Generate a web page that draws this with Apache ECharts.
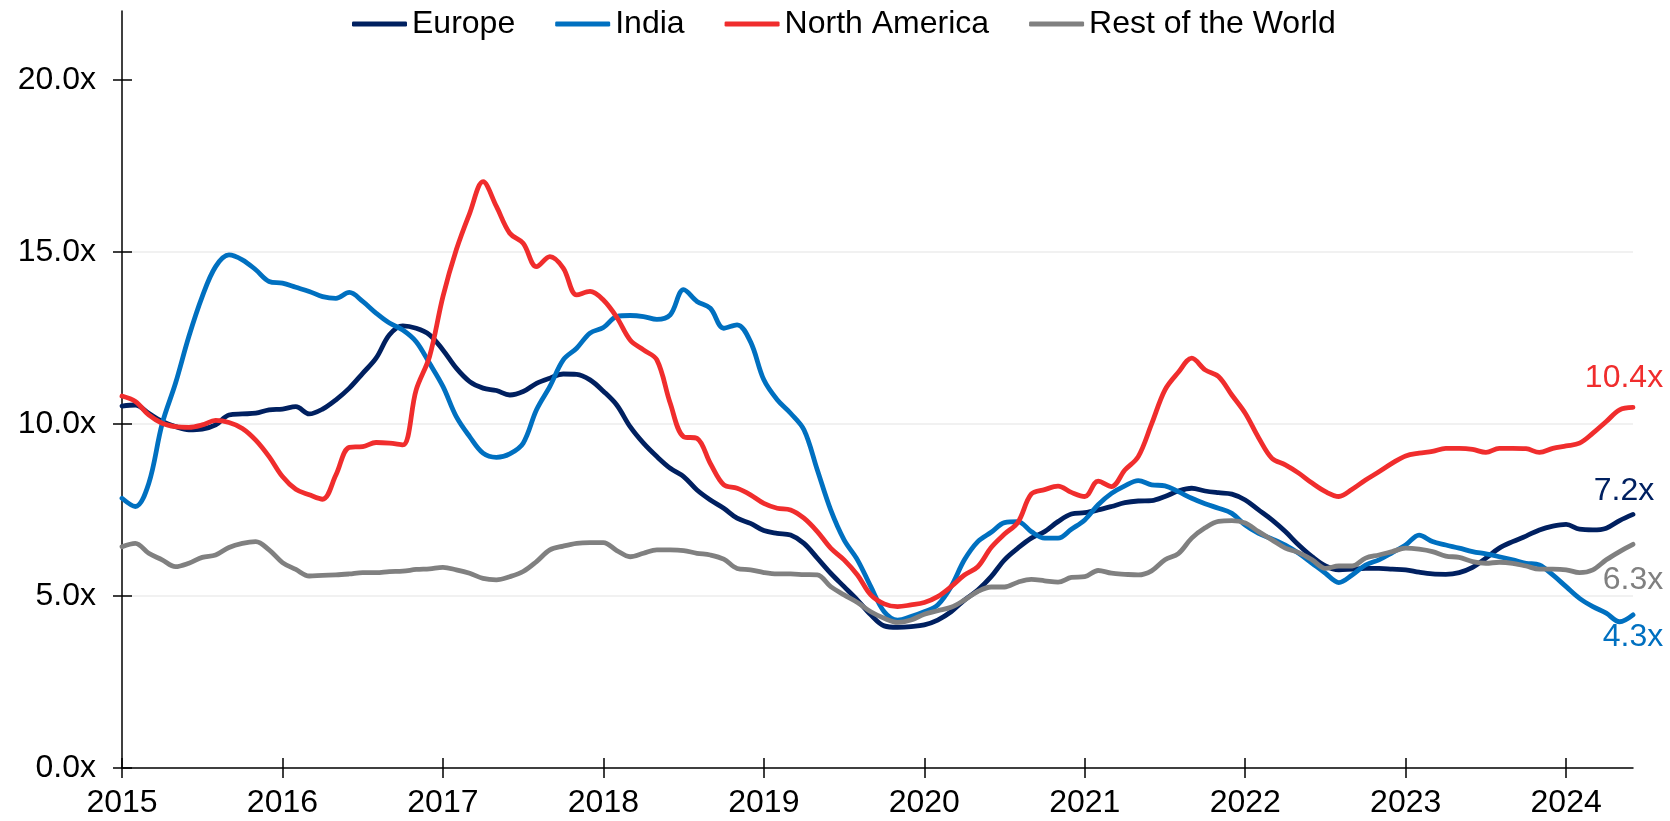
<!DOCTYPE html>
<html>
<head>
<meta charset="utf-8">
<script src="https://cdn.jsdelivr.net/npm/echarts@6/dist/echarts.min.js"></script>
<style>
html, body { margin: 0; padding: 0; background: #fff; }
#chartMain { width: 1670px; height: 821px; }
</style>
</head>
<body>
<div id="chartMain"></div>
<script>
// monthly points, Jan 2015 .. Jun 2024
var startYear = 2015;
var yearTicks = [2015, 2016, 2017, 2018, 2019, 2020, 2021, 2022, 2023, 2024];
var valueTicks = [0, 5, 10, 15, 20];

var seriesNames = ['Europe', 'India', 'North America', 'Rest of the World'];
var endLabels = ['7.2x', '4.3x', '10.4x', '6.3x'];

var europe = [10.52,10.55,10.31,10.07,9.92,9.83,9.85,9.97,10.26,10.29,10.31,10.41,10.43,10.5,10.29,10.43,10.7,11.04,11.47,11.91,12.59,12.85,12.78,12.59,12.15,11.62,11.23,11.04,10.97,10.84,10.94,11.18,11.33,11.45,11.44,11.28,10.95,10.55,
    9.92,9.44,9.05,8.71,8.47,8.08,7.79,7.55,7.26,7.11,6.9,6.82,6.77,6.53,6.1,5.66,5.27,4.88,4.45,4.13,4.09,4.11,4.16,4.3,4.54,4.88,5.17,
    5.56,6.05,6.39,6.68,6.87,7.16,7.38,7.42,7.5,7.6,7.71,7.76,
    7.77,7.89,8.05,8.13,8.05,8.0,7.96,7.79,7.5,7.21,6.87,6.48,6.14,5.87,5.76,5.78,5.8,5.8,5.78,5.76,5.69,5.64,5.63,5.68,5.83,6.1,6.39,6.58,6.74,6.92,7.03,7.08,6.94,6.92,6.97,7.19,7.37];

var india = [7.84,7.6,8.27,10.0,11.18,12.54,13.7,14.57,14.91,14.77,14.48,14.14,14.09,13.97,13.85,13.7,13.65,13.82,13.56,13.22,12.93,12.73,12.39,11.76,11.09,10.21,9.63,9.15,9.03,9.13,9.44,10.41,11.09,11.86,12.2,12.64,12.8,13.12,
    13.15,13.12,13.04,13.17,13.9,13.56,13.36,12.78,12.88,12.39,11.28,10.7,10.31,9.83,8.66,7.5,6.63,6.05,5.27,4.54,4.3,4.4,4.54,4.74,5.27,6.05,6.58,
    6.85,7.13,7.16,6.87,6.68,6.68,6.94,7.21,7.65,7.98,8.2,8.35,
    8.23,8.2,8.03,7.84,7.68,7.55,7.4,7.06,6.82,6.66,6.48,6.24,5.95,5.66,5.39,5.61,5.9,6.05,6.26,6.48,6.77,6.58,6.48,6.39,6.29,6.22,6.14,6.05,5.95,5.9,5.61,5.27,4.93,4.69,4.5,4.25,4.45];

var northAmerica = [10.81,10.65,10.26,10.02,9.92,9.9,9.97,10.1,10.04,9.87,9.53,9.05,8.47,8.1,7.94,7.81,8.52,9.32,9.34,9.46,9.44,9.39,10.99,11.96,13.7,15.06,16.12,17.04,16.32,15.54,15.25,14.57,14.86,14.53,13.75,13.85,13.6,13.1,
    12.44,12.15,11.86,10.6,9.63,9.58,8.85,8.23,8.13,7.94,7.69,7.55,7.5,7.26,6.87,6.39,6.05,5.61,5.03,4.77,4.69,4.74,4.81,4.98,5.27,5.61,5.85,
    6.41,6.8,7.14,7.96,8.09,8.19,8.01,7.89,8.34,8.18,8.66,9.05,
    10.0,10.99,11.5,11.91,11.57,11.38,10.84,10.31,9.6,9.0,8.81,8.57,8.28,8.03,7.89,8.1,8.37,8.61,8.86,9.07,9.15,9.2,9.29,9.29,9.26,9.17,9.29,9.29,9.28,9.17,9.29,9.36,9.44,9.73,10.07,10.41,10.48];

var restOfWorld = [6.43,6.53,6.24,6.05,5.85,5.95,6.12,6.19,6.41,6.53,6.58,6.34,5.97,5.77,5.58,5.6,5.61,5.64,5.68,5.68,5.71,5.72,5.77,5.79,5.83,5.76,5.66,5.51,5.47,5.56,5.71,6.0,6.34,6.45,6.53,6.55,6.55,6.32,
    6.14,6.24,6.34,6.34,6.32,6.24,6.19,6.07,5.8,5.76,5.68,5.64,5.64,5.62,5.61,5.27,5.03,4.81,4.54,4.35,4.23,4.3,4.47,4.57,4.67,4.88,5.13,
    5.26,5.26,5.4,5.48,5.44,5.4,5.54,5.56,5.74,5.66,5.63,5.61,
    5.73,6.05,6.23,6.68,6.98,7.17,7.19,7.12,6.87,6.63,6.39,6.26,6.05,5.8,5.87,5.87,6.1,6.19,6.29,6.39,6.36,6.29,6.16,6.12,6.0,5.95,5.98,5.95,5.87,5.78,5.78,5.76,5.68,5.76,6.05,6.29,6.5];

var seriesValues = [europe, india, northAmerica, restOfWorld];

// styling
var colors = ['#002060', '#0070C0', '#F02D2D', '#808080'];
var labelOffsets = [[-9, -23], [0, 22], [-9, -29], [0, 36]];
var fontFamily = 'Arial, "Liberation Sans", sans-serif';
var fontSize = 32;

function toPoints(arr) {
    return arr.map(function (v, i) { return [startYear + i / 12, v]; });
}

var xMax = startYear + (europe.length - 1) / 12;

var series = seriesValues.map(function (arr, k) {
    var pts = toPoints(arr);
    return {
        name: seriesNames[k],
        type: 'line',
        xAxisIndex: 0,
        yAxisIndex: 0,
        data: pts,
        smooth: 0.35,
        showSymbol: false,
        symbol: 'none',
        color: colors[k],
        lineStyle: { width: 4.8, color: colors[k], cap: 'round', join: 'round' },
        markPoint: {
            symbol: 'circle',
            symbolSize: 1,
            itemStyle: { color: 'rgba(0,0,0,0)' },
            silent: true,
            data: [{
                coord: pts[pts.length - 1],
                label: {
                    show: true,
                    position: 'inside',
                    formatter: endLabels[k],
                    offset: labelOffsets[k],
                    color: colors[k],
                    fontSize: fontSize,
                    fontFamily: fontFamily
                }
            }]
        }
    };
});

var myChart = echarts.init(document.getElementById('chartMain'));
var option = {
    animation: false,
    backgroundColor: '#ffffff',
    grid: { left: 122, right: 37, top: 11, bottom: 53 },
    legend: {
        data: seriesNames,
        left: 347,
        top: 3,
        icon: 'roundRect',
        itemWidth: 55,
        itemHeight: 5,
        itemGap: 40,
        textStyle: { color: '#000', fontSize: fontSize, fontFamily: fontFamily }
    },
    xAxis: [{
        type: 'value',
        min: startYear,
        max: xMax,
        interval: 1,
        axisLine: { show: true, lineStyle: { color: '#000', width: 1.5 } },
        axisTick: { show: true, length: 10, customValues: yearTicks, lineStyle: { color: '#000', width: 1.5 } },
        axisLabel: {
            customValues: yearTicks,
            margin: 19,
            color: '#000',
            fontSize: fontSize,
            fontFamily: fontFamily,
            formatter: function (v) { return Math.abs(v - Math.round(v)) < 1e-6 ? String(Math.round(v)) : ''; }
        },
        splitLine: { show: false }
    }, {
        // inner half of the crossing ticks
        type: 'value',
        position: 'bottom',
        min: startYear,
        max: xMax,
        interval: 1,
        axisLine: { show: false },
        axisTick: { show: true, inside: true, length: 10, customValues: yearTicks, lineStyle: { color: '#000', width: 1.5 } },
        axisLabel: { show: false },
        splitLine: { show: false }
    }],
    yAxis: [{
        type: 'value',
        min: 0,
        max: 22,
        interval: 5,
        axisLine: { show: true, lineStyle: { color: '#000', width: 1.5 } },
        axisTick: { show: true, length: 9, customValues: valueTicks, lineStyle: { color: '#000', width: 1.5 } },
        axisLabel: {
            customValues: valueTicks,
            margin: 26,
            color: '#000',
            fontSize: fontSize,
            fontFamily: fontFamily,
            formatter: function (v) { return v > 20 ? '' : v.toFixed(1) + 'x'; }
        },
        splitLine: { show: true, showMinLine: false, showMaxLine: false, lineStyle: { color: '#EDEDED', width: 1.5 } }
    }, {
        type: 'value',
        position: 'left',
        min: 0,
        max: 22,
        interval: 5,
        axisLine: { show: false },
        axisTick: { show: true, inside: true, length: 10, customValues: valueTicks, lineStyle: { color: '#000', width: 1.5 } },
        axisLabel: { show: false },
        splitLine: { show: false }
    }],
    series: series
};
myChart.setOption(option);
</script>
</body>
</html>
